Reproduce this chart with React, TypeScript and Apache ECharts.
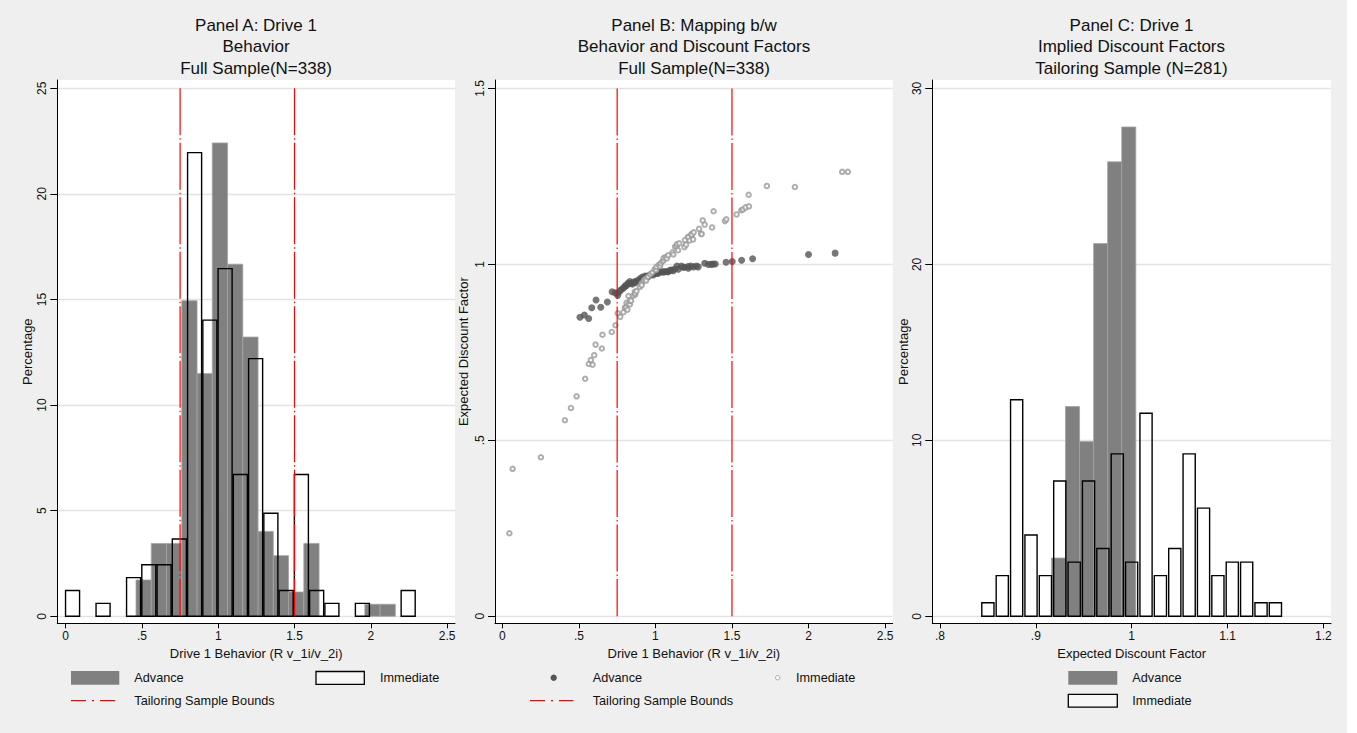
import React, { useEffect, useRef } from 'react';
import * as echarts from 'echarts';

const FONT = '"Liberation Sans", Arial, Helvetica, sans-serif';

// ---------- Panel A: behaviour histograms (percent) ----------
const advA_x = [0.511, 0.611, 0.711, 0.811, 0.911, 1.011, 1.111, 1.211, 1.311, 1.411, 1.511, 1.611, 2.011, 2.111];
const advA_pct = [1.72, 3.45, 3.45, 14.94, 11.49, 22.41, 16.67, 13.22, 4.02, 2.87, 1.15, 3.45, 0.57, 0.57];
const immA_x = [0.045, 0.245, 0.445, 0.545, 0.645, 0.745, 0.845, 0.945, 1.045, 1.145, 1.245, 1.345, 1.445, 1.545, 1.645, 1.745, 1.945, 2.245];
const immA_pct = [1.22, 0.61, 1.83, 2.44, 2.44, 3.66, 21.95, 14.02, 16.46, 6.71, 12.2, 4.88, 1.22, 6.71, 1.22, 0.61, 0.61, 1.22];

// ---------- Panel B: behaviour vs expected discount factor ----------
const advB: number[][] = [
  [0.507, 0.85], [0.536, 0.856], [0.564, 0.846], [0.584, 0.877], [0.612, 0.899], [0.643, 0.878], [0.686, 0.893],
  [0.717, 0.922], [0.737, 0.919], [0.751, 0.918], [0.754, 0.912], [0.768, 0.924], [0.775, 0.928], [0.79, 0.932],
  [0.798, 0.936], [0.805, 0.94], [0.812, 0.94], [0.82, 0.946], [0.833, 0.951], [0.839, 0.946], [0.85, 0.944],
  [0.858, 0.95], [0.867, 0.948], [0.875, 0.953], [0.888, 0.954], [0.9, 0.96], [0.915, 0.964], [0.921, 0.958],
  [0.933, 0.967], [0.945, 0.966], [0.954, 0.965], [0.962, 0.97], [0.974, 0.972], [0.986, 0.97], [0.996, 0.975],
  [1.008, 0.974], [1.019, 0.975], [1.03, 0.978], [1.039, 0.98], [1.052, 0.978], [1.061, 0.98], [1.075, 0.979],
  [1.084, 0.979], [1.095, 0.983], [1.104, 0.984], [1.117, 0.982], [1.126, 0.987], [1.141, 0.995], [1.15, 0.986],
  [1.17, 0.995], [1.182, 0.992], [1.191, 0.992], [1.213, 0.994], [1.215, 0.989], [1.23, 0.995], [1.248, 0.993],
  [1.267, 0.995], [1.28, 0.993], [1.322, 1.003], [1.346, 1.0], [1.365, 1.0], [1.378, 1.001], [1.391, 1.001],
  [1.461, 1.006], [1.502, 1.008], [1.563, 1.012], [1.635, 1.016], [2.0, 1.028], [2.174, 1.032],
];
const immB: number[][] = [
  [0.046, 0.236], [0.067, 0.419], [0.252, 0.452], [0.409, 0.557], [0.448, 0.592], [0.485, 0.625], [0.541, 0.675],
  [0.565, 0.717], [0.578, 0.728], [0.589, 0.715], [0.6, 0.742], [0.609, 0.772], [0.65, 0.761], [0.654, 0.8],
  [0.715, 0.808], [0.739, 0.827], [0.754, 0.861], [0.77, 0.851], [0.791, 0.864], [0.8, 0.877], [0.808, 0.878],
  [0.811, 0.891], [0.817, 0.871], [0.823, 0.887], [0.824, 0.91], [0.833, 0.886], [0.834, 0.897], [0.841, 0.897],
  [0.854, 0.911], [0.865, 0.922], [0.867, 0.914], [0.867, 0.918], [0.876, 0.924], [0.898, 0.936], [0.909, 0.946],
  [0.91, 0.941], [0.924, 0.955], [0.935, 0.959], [0.939, 0.954], [0.952, 0.965], [0.967, 0.972], [0.98, 0.977],
  [0.996, 0.987], [1.004, 0.984], [1.007, 0.993], [1.022, 0.999], [1.03, 0.995], [1.035, 1.003], [1.046, 1.009],
  [1.052, 1.011], [1.054, 1.018], [1.067, 1.021], [1.074, 1.017], [1.083, 1.026], [1.111, 1.034], [1.117, 1.028],
  [1.128, 1.05], [1.139, 1.052], [1.141, 1.058], [1.148, 1.04], [1.156, 1.06], [1.189, 1.049], [1.193, 1.069],
  [1.2, 1.056], [1.213, 1.078], [1.215, 1.077], [1.224, 1.068], [1.235, 1.086], [1.237, 1.084], [1.246, 1.071],
  [1.25, 1.091], [1.285, 1.101], [1.298, 1.087], [1.302, 1.086], [1.309, 1.125], [1.322, 1.113], [1.37, 1.105],
  [1.38, 1.151], [1.454, 1.123], [1.463, 1.128], [1.53, 1.142], [1.561, 1.154], [1.572, 1.156], [1.589, 1.162],
  [1.611, 1.165], [1.609, 1.198], [1.728, 1.223], [1.911, 1.22], [2.22, 1.263], [2.257, 1.263],
];

// ---------- Panel C: implied discount factors (percent) ----------
const advC_x = [0.9237, 0.9383, 0.953, 0.9677, 0.9823, 0.997];
const advC_pct = [3.31, 11.92, 9.93, 21.19, 25.83, 27.81];
const immC_x = [0.85, 0.865, 0.88, 0.895, 0.91, 0.925, 0.94, 0.955, 0.97, 0.985, 1.0, 1.015, 1.03, 1.045, 1.06, 1.075, 1.09, 1.105, 1.12, 1.135, 1.15];
const immC_pct = [0.77, 2.31, 12.31, 4.62, 2.31, 7.69, 3.08, 7.69, 3.85, 9.23, 3.08, 11.54, 2.31, 3.85, 9.23, 6.15, 2.31, 3.08, 3.08, 0.77, 0.77];

// ---------- ticks, bounds and texts ----------
const behaviorTicks = [0, 0.5, 1, 1.5, 2, 2.5];
const pctTicksA = [0, 5, 10, 15, 20, 25];
const edfTicksB = [0, 0.5, 1, 1.5];
const edfTicksC = [0.8, 0.9, 1, 1.1, 1.2];
const pctTicksC = [0, 10, 20, 30];
const bounds = [0.75, 1.5];

const titlesA = ['Panel A: Drive 1', 'Behavior', 'Full Sample(N=338)'];
const titlesB = ['Panel B: Mapping b/w', 'Behavior and Discount Factors', 'Full Sample(N=338)'];
const titlesC = ['Panel C: Drive 1', 'Implied Discount Factors', 'Tailoring Sample (N=281)'];
const xNameAB = 'Drive 1 Behavior (R v_1i/v_2i)';
const xNameC = 'Expected Discount Factor';

const GRAY = '#808080';
const RED = '#ff0000';
const BG = '#efefef';

const fmt = (v: number) => {
  let s = String(Math.round(v * 1000) / 1000);
  if (s.startsWith('0.')) s = s.slice(1);
  return s;
};

function histSeries(idx: number, xs: number[], ys: number[], width: number, style: any) {
  return {
    type: 'custom',
    xAxisIndex: idx,
    yAxisIndex: idx,
    silent: true,
    clip: true,
    encode: { x: 0, y: 1 },
    data: xs.map((x, i) => [x, ys[i]]),
    renderItem: (_p: any, api: any) => {
      const x = api.value(0) as number;
      const h = api.value(1) as number;
      const a = api.coord([x - width / 2, 0]);
      const b = api.coord([x + width / 2, h]);
      return {
        type: 'rect',
        shape: { x: a[0], y: b[1], width: b[0] - a[0], height: a[1] - b[1] },
        style,
      };
    },
  };
}

function boundSeries(idx: number, top: number) {
  return bounds.map((b) => ({
    type: 'line',
    xAxisIndex: idx,
    yAxisIndex: idx,
    silent: true,
    symbol: 'none',
    data: [[b, top], [b, 0]],
    lineStyle: { color: RED, width: 1.2, type: [47, 3, 1.5, 3] },
  }));
}

function xAxis(idx: number, min: number, max: number, ticks: number[], name: string) {
  return {
    type: 'value',
    gridIndex: idx,
    min,
    max,
    name,
    nameLocation: 'middle',
    nameGap: 21,
    nameTextStyle: { fontFamily: FONT, fontSize: 13, color: '#111' },
    axisLine: { show: true, onZero: false, lineStyle: { color: '#000', width: 1 } },
    axisTick: { show: true, length: 5, customValues: ticks, lineStyle: { color: '#000', width: 1 } },
    axisLabel: { show: true, customValues: ticks, formatter: fmt, margin: 7, fontFamily: FONT, fontSize: 12, color: '#111' },
    splitLine: { show: false },
  };
}

function yAxis(idx: number, min: number, max: number, ticks: number[], name: string, gap: number) {
  return {
    type: 'value',
    gridIndex: idx,
    min,
    max,
    name,
    nameLocation: 'middle',
    nameGap: gap,
    nameRotate: 90,
    nameTextStyle: { fontFamily: FONT, fontSize: 13, color: '#111' },
    axisLine: { show: true, onZero: false, lineStyle: { color: '#000', width: 1 } },
    axisTick: { show: true, length: 7, customValues: ticks, lineStyle: { color: '#000', width: 1 } },
    axisLabel: { show: true, customValues: ticks, formatter: fmt, rotate: 90, margin: 9, fontFamily: FONT, fontSize: 12, color: '#111' },
    splitLine: { show: true, lineStyle: { color: '#e3e3e3', width: 1.3 } },
  };
}

function txt(x: number, y: number, text: string, size: number, align = 'left') {
  return {
    type: 'text',
    x,
    y,
    silent: true,
    style: {
      text,
      font: `${size}px ${FONT}`,
      fill: '#111',
      align,
      textAlign: align,
      verticalAlign: 'middle',
      textVerticalAlign: 'middle',
    },
  };
}

function titleBlock(cx: number, lines: string[]) {
  const ys = [25, 46.5, 68];
  return lines.map((l, i) => txt(cx, ys[i], l, 17, 'center'));
}

const grids = [
  { left: 57.3, top: 80, width: 397.7, height: 543.3 },
  { left: 495, top: 80, width: 397.7, height: 543.3 },
  { left: 932.3, top: 80, width: 398.7, height: 543.3 },
].map((g) => ({ ...g, show: true, backgroundColor: '#ffffff', borderWidth: 0, containLabel: false, outerBoundsMode: 'none' }));

const row1 = 677.7;
const row2 = 700.7;

const legendGraphics: any[] = [
  // Panel A
  { type: 'rect', silent: true, shape: { x: 71, y: 671, width: 48.3, height: 13.7 }, style: { fill: GRAY } },
  txt(134.3, row1, 'Advance', 12.7),
  { type: 'rect', silent: true, shape: { x: 316, y: 671.5, width: 48.3, height: 12.8 }, style: { fill: '#f7f7f7', stroke: '#000', lineWidth: 1.3 } },
  txt(380, row1, 'Immediate', 12.7),
  { type: 'line', silent: true, shape: { x1: 71, y1: row2, x2: 115, y2: row2 }, style: { stroke: RED, lineWidth: 1.3, lineDash: [15, 6, 2, 6] } },
  txt(134.3, row2, 'Tailoring Sample Bounds', 12.7),
  // Panel B
  { type: 'circle', silent: true, shape: { cx: 553.7, cy: row1, r: 3.2 }, style: { fill: '#555555' } },
  txt(592.7, row1, 'Advance', 12.7),
  { type: 'circle', silent: true, shape: { cx: 777.7, cy: row1, r: 2.2 }, style: { fill: '#ffffff', stroke: '#9a9a9a', lineWidth: 0.9 } },
  txt(796, row1, 'Immediate', 12.7),
  { type: 'line', silent: true, shape: { x1: 530, y1: row2, x2: 573.3, y2: row2 }, style: { stroke: RED, lineWidth: 1.3, lineDash: [15, 6, 2, 6] } },
  txt(592.7, row2, 'Tailoring Sample Bounds', 12.7),
  // Panel C
  { type: 'rect', silent: true, shape: { x: 1068.3, y: 671, width: 49, height: 13.7 }, style: { fill: GRAY } },
  txt(1132.3, row1, 'Advance', 12.7),
  { type: 'rect', silent: true, shape: { x: 1068.3, y: 694.3, width: 49, height: 12.8 }, style: { fill: '#f7f7f7', stroke: '#000', lineWidth: 1.3 } },
  txt(1132.3, row2, 'Immediate', 12.7),
  // white page strip beyond the graph region
  { type: 'rect', silent: true, z: 100, shape: { x: 1347, y: 0, width: 10, height: 733 }, style: { fill: '#ffffff' } },
];

const option: any = {
  animation: false,
  backgroundColor: BG,
  grid: grids,
  xAxis: [
    xAxis(0, -0.055, 2.552, behaviorTicks, xNameAB),
    xAxis(1, -0.048, 2.55, behaviorTicks, xNameAB),
    xAxis(2, 0.792, 1.208, edfTicksC, xNameC),
  ],
  yAxis: [
    yAxis(0, -0.331, 25.39, pctTicksA, 'Percentage', 23),
    yAxis(1, -0.02, 1.524, edfTicksB, 'Expected Discount Factor', 25),
    yAxis(2, -0.398, 30.48, pctTicksC, 'Percentage', 22),
  ],
  graphic: [
    ...titleBlock(256, titlesA),
    ...titleBlock(694, titlesB),
    ...titleBlock(1131.5, titlesC),
    ...legendGraphics,
  ],
  series: [
    // Panel A
    histSeries(0, advA_x, advA_pct, 0.1, { fill: GRAY, stroke: '#a3a3a3', lineWidth: 0.8 }),
    histSeries(0, immA_x, immA_pct, 0.092, { fill: 'rgba(0,0,0,0)', stroke: '#000', lineWidth: 1.4 }),
    ...boundSeries(0, 25),
    // Panel B
    {
      type: 'scatter', xAxisIndex: 1, yAxisIndex: 1, silent: true, data: advB,
      symbol: 'circle', symbolSize: 7, itemStyle: { color: '#555555' },
    },
    {
      type: 'scatter', xAxisIndex: 1, yAxisIndex: 1, silent: true, data: immB,
      symbol: 'emptyCircle', symbolSize: 4.5, itemStyle: { color: '#9a9a9a', borderColor: '#9a9a9a', borderWidth: 0.9 },
    },
    ...boundSeries(1, 1.5),
    // Panel C
    histSeries(2, advC_x, advC_pct, 0.0147, { fill: GRAY, stroke: '#a3a3a3', lineWidth: 0.8 }),
    histSeries(2, immC_x, immC_pct, 0.0127, { fill: 'rgba(0,0,0,0)', stroke: '#000', lineWidth: 1.4 }),
  ],
};

export default function App() {
  const ref = useRef<HTMLDivElement>(null);
  useEffect(() => {
    document.body.style.margin = '0';
    const chart = echarts.init(ref.current!, null, { renderer: 'svg' });
    chart.setOption(option);
    return () => chart.dispose();
  }, []);
  return <div ref={ref} style={{ width: 1357, height: 733 }} />;
}
